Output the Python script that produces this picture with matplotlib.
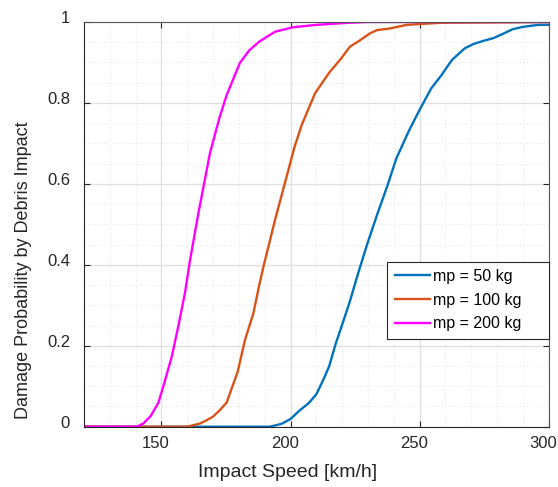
import matplotlib
matplotlib.use("Agg")
import matplotlib.pyplot as plt
import matplotlib.transforms as mtransforms
from matplotlib.ticker import MultipleLocator, FuncFormatter

plt.rcParams['font.family'] = ['Liberation Sans', 'DejaVu Sans']

# 衝突速度 [km/h] と損傷確率
speed_50 = [120, 192, 196.5, 200, 203.5, 207, 210, 213, 215, 217.5, 220, 223, 226,
            229.5, 233.5, 237.5, 241, 246, 250, 254.5, 258.5, 262.5, 267.5, 271,
            275, 278.5, 282, 286, 290, 296, 300]
prob_50 = [0, 0, 0.007, 0.019, 0.04, 0.058, 0.08, 0.12, 0.15, 0.205, 0.252, 0.31,
           0.375, 0.447, 0.523, 0.595, 0.663, 0.733, 0.783, 0.836, 0.869, 0.906,
           0.935, 0.946, 0.954, 0.960, 0.970, 0.982, 0.988, 0.993, 0.993]

speed_100 = [120, 160, 165, 167.5, 170, 172.5, 175.3, 177.8, 179.5, 182.4, 185.6,
             187.9, 189.5, 194, 198.5, 201.5, 204.3, 209.5, 215, 219.5, 223, 226.5,
             230.8, 233.5, 238.5, 245, 250, 258, 300]
prob_100 = [0, 0, 0.008, 0.016, 0.025, 0.04, 0.06, 0.105, 0.135, 0.215, 0.28, 0.35,
            0.395, 0.511, 0.618, 0.69, 0.745, 0.824, 0.875, 0.909, 0.939, 0.953,
            0.972, 0.98, 0.984, 0.993, 0.995, 0.998, 1]

speed_200 = [120, 140.5, 143, 145.8, 148.8, 150.7, 154, 156.5, 159.1, 161.1, 164.3,
             168.8, 172.5, 175.3, 180.4, 184, 188, 194, 201, 210, 222, 230, 300]
prob_200 = [0, 0, 0.008, 0.026, 0.059, 0.099, 0.173, 0.247, 0.33, 0.412, 0.527,
            0.676, 0.764, 0.82, 0.899, 0.93, 0.952, 0.976, 0.987, 0.993, 0.998, 1, 1]

labels = ['mp = 50 kg', 'mp = 100 kg', 'mp = 200 kg']
colors = ['#0072BD', '#D95319', '#FF00FF']

fig = plt.figure(figsize=(5.58, 4.87), dpi=100)
ax = fig.add_axes([0.1505, 0.1238, 0.8328, 0.831])

ax.plot(speed_50, prob_50, color=colors[0], lw=1.7, label=labels[0])
ax.plot(speed_100, prob_100, color=colors[1], lw=1.7, label=labels[1])
ax.plot(speed_200, prob_200, color=colors[2], lw=1.7, label=labels[2])

ax.set_xlim(120, 300)
ax.set_ylim(0, 1)
ax.set_xticks([150, 200, 250, 300])
ax.yaxis.set_major_locator(MultipleLocator(0.2))
ax.xaxis.set_minor_locator(MultipleLocator(10))
ax.yaxis.set_minor_locator(MultipleLocator(0.05))
ax.yaxis.set_major_formatter(FuncFormatter(lambda v, p: '%g' % round(v, 2)))

ax.grid(True, which='major', color='#DFDFDF', lw=0.9)
ax.grid(True, which='minor', color='#E2E2E2', lw=0.7, linestyle=(0, (1, 2.5)))
ax.set_axisbelow(True)

for s in ax.spines.values():
    s.set_color('#262626')
    s.set_linewidth(0.8)
ax.spines['right'].set_color('#555555')
ax.spines['top'].set_color('#555555')

ax.tick_params(which='major', direction='in', length=4, width=0.8, color='#262626',
               top=True, right=True, labelsize=12, labelcolor='#262626')
ax.tick_params(which='minor', length=0, top=True, right=True)
ax.tick_params(axis='y', pad=10)
ax.tick_params(axis='x', pad=7)

# 目盛ラベルを少しずらす (元図に合わせる)
off_y = mtransforms.ScaledTranslation(0, 5 / 100, fig.dpi_scale_trans)
for lab in ax.get_yticklabels():
    lab.set_transform(lab.get_transform() + off_y)
off_x = mtransforms.ScaledTranslation(-5.5 / 100, 0, fig.dpi_scale_trans)
for lab in ax.get_xticklabels():
    lab.set_transform(lab.get_transform() + off_x)

ax.set_xlabel('Impact Speed [km/h]', fontsize=14, color='#262626')
ax.set_ylabel('Damage Probability by Debris Impact', fontsize=13, color='#262626')
ax.xaxis.set_label_coords(0.4375, -0.114)
ax.yaxis.set_label_coords(-0.131, 0.387)
ax.xaxis.label.set_va('center')
ax.yaxis.label.set_va('center')

leg = ax.legend(loc='upper left', bbox_to_anchor=(0.653, 0.0, 0.347, 0.408),
                mode='expand', fontsize=11.5,
                fancybox=False, framealpha=1, edgecolor='#262626',
                handlelength=2.2, handletextpad=0.2, borderpad=0.45,
                labelspacing=0.55, borderaxespad=0)
leg.get_frame().set_linewidth(0.8)

fig.savefig('out.png', dpi=100)
